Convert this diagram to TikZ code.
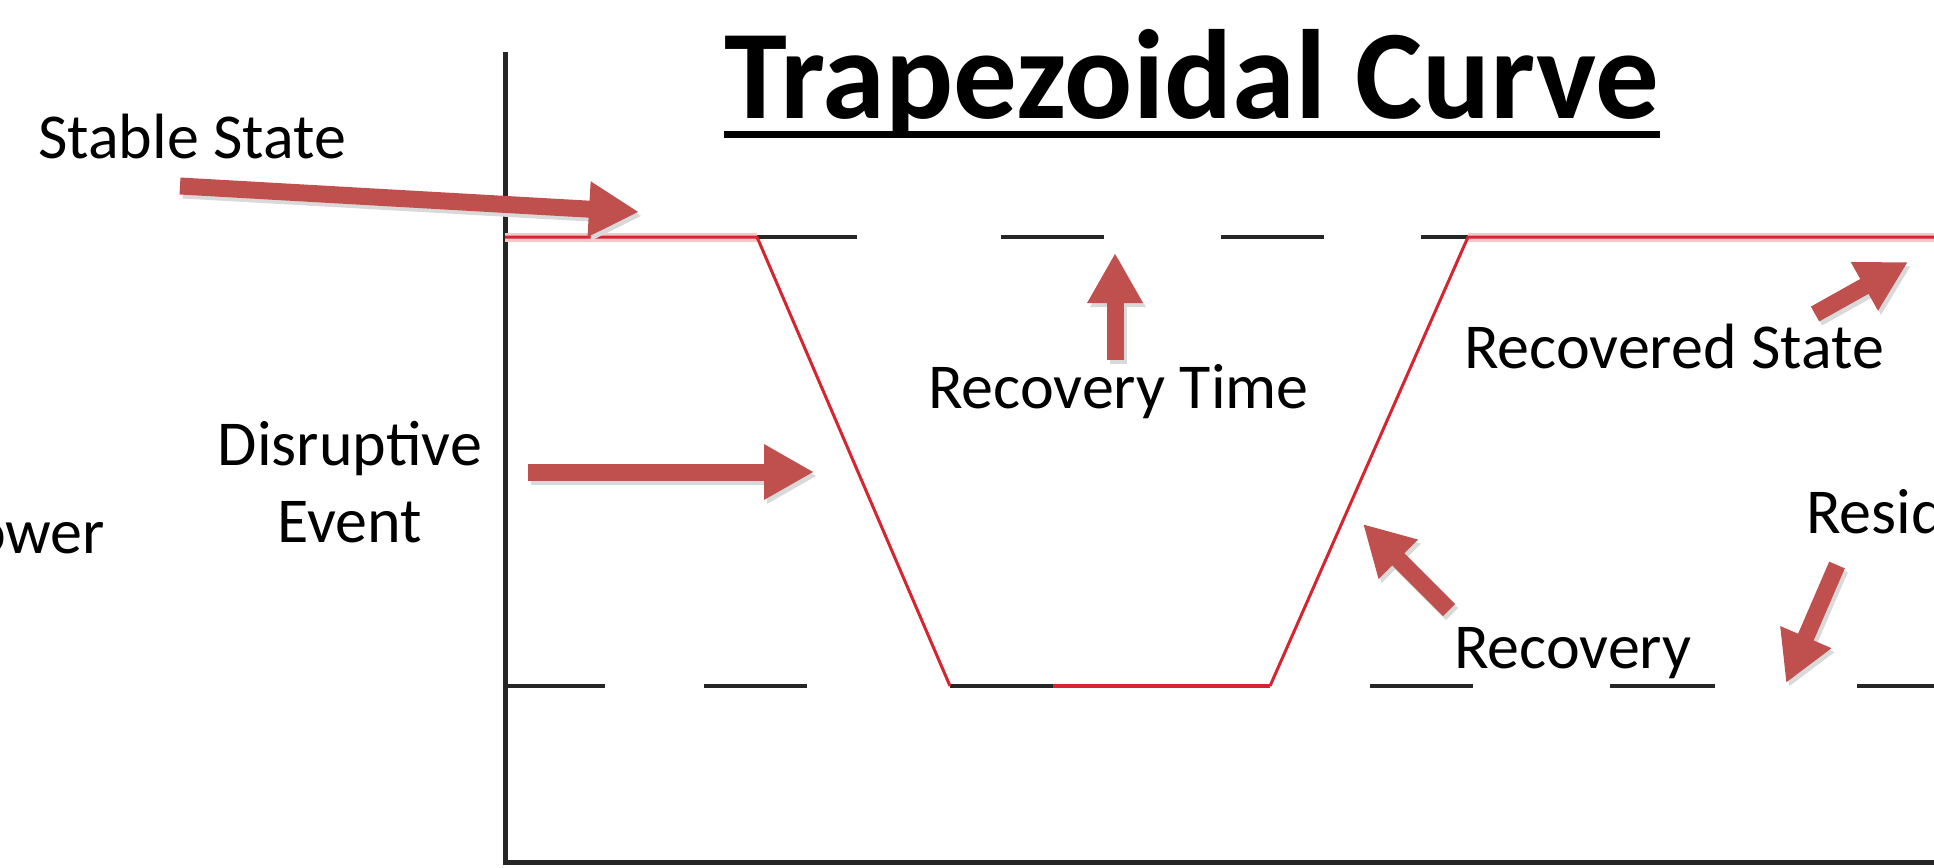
\documentclass[tikz,border=0pt]{standalone}
\usepackage{fontspec}
\setmainfont{Carlito}
\usetikzlibrary{arrows.meta}
\definecolor{arrowred}{HTML}{C0504D}
\definecolor{curvered}{RGB}{214,36,48}
\begin{document}
\begin{tikzpicture}[x=1pt,y=-1pt,
  lbl/.style={anchor=base west,inner sep=0pt,font=\fontsize{64}{77}\selectfont},
  blockarrow/.style={line width=17pt,arrowred,-{Triangle[length=50pt,width=52pt]}},
  shadowarrow/.style={line width=17pt,black!15,-{Triangle[length=50pt,width=52pt]}},
  blackdash/.style={line width=4pt,black!85},
  axisline/.style={line width=5pt,black!85,line cap=rect},
  curve/.style={line width=3pt,curvered,line join=miter},
  halo/.style={line width=9pt,curvered!25}]
\useasboundingbox (0,0) rectangle (1934,867);

% title
\node[anchor=base west,inner sep=0pt,font=\fontsize{127}{150}\selectfont\bfseries] (title) at (724,118) {Trapezoidal Curve};
\draw[line width=7pt] ([yshift=-16pt]title.base west) -- ([yshift=-16pt]title.base east);

% axes
\coordinate (axtop) at (505,55);
\coordinate (origin) at (505,862);
\coordinate (axright) at (1934,862);
\draw[axisline] (axtop) -- (origin) -- (axright);

% levels
\coordinate (s0) at (505,237);
\coordinate (s1) at (757,237);
\coordinate (b0) at (950,686);
\coordinate (b1) at (1053,686);
\coordinate (b2) at (1270,686);
\coordinate (r0) at (1468,237);
\coordinate (r1) at (1934,237);

\draw[halo] (s0) -- (s1);
\draw[halo] (r0) -- (r1);

% top dashed level
\draw[blackdash] (757,237) -- (857,237);
\draw[blackdash] (1001,237) -- (1104,237);
\draw[blackdash] (1221,237) -- (1324,237);
\draw[blackdash] (1421,237) -- (1468,237);
% bottom dashed level
\draw[blackdash] (505,686) -- (605,686);
\draw[blackdash] (704,686) -- (807,686);
\draw[blackdash] (b0) -- (b1);
\draw[blackdash] (1370,686) -- (1473,686);
\draw[blackdash] (1610,686) -- (1715,686);
\draw[blackdash] (1857,686) -- (1934,686);

% curve
\draw[curve] (s0) -- (s1) -- (b0);
\draw[curve,line width=4pt] (b1) -- (b2);
\draw[curve] (b2) -- (r0) -- (r1);

% labels
\node[lbl] (stable) at (38,158) {Stable State};
\node[lbl] (power) at (-60,553) {Power};
\node[anchor=base,inner sep=0pt,align=center,font=\fontsize{64}{77}\selectfont] (disr) at (350,542) {Disruptive\\Event};
\node[lbl] (rtime) at (928,408) {Recovery Time};
\node[lbl] (recstate) at (1464,368) {Recovered State};
\node[lbl] (recovery) at (1454,668) {Recovery};
\node[lbl] (resid) at (1806,533) {Residual};

% arrow ends
\coordinate (a1t) at (180,186); \coordinate (a1h) at (639,212);
\coordinate (a2t) at (528,472); \coordinate (a2h) at (814,472);
\coordinate (a3t) at (1115,360); \coordinate (a3h) at (1115,253);
\coordinate (a4t) at (1815,314); \coordinate (a4h) at (1908,262);
\coordinate (a5t) at (1449,610); \coordinate (a5h) at (1363,524);
\coordinate (a6t) at (1837,565); \coordinate (a6h) at (1786,683);

\foreach \n in {1,...,6}{
  \draw[shadowarrow] ([shift={(3,4)}]a\n t) -- ([shift={(3,4)}]a\n h);
}
\foreach \n in {1,...,6}{
  \draw[blockarrow] (a\n t) -- (a\n h);
}
\end{tikzpicture}
\end{document}
